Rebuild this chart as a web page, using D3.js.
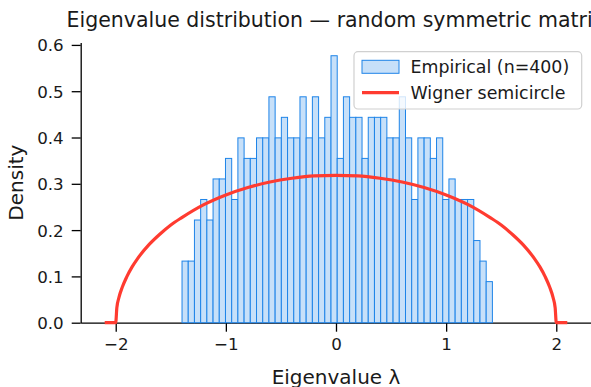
<!DOCTYPE html>
<html>
<head>
<meta charset="utf-8">
<script src="https://cdn.jsdelivr.net/npm/d3@7"></script>
<style>
  body { margin: 0; background: #fff; }
  svg { display: block; font-family: "DejaVu Sans", sans-serif; }
</style>
</head>
<body>
<div id="chart"></div>
<script>
// histogram: 50 equal bins between binLo and binHi, counts out of n eigenvalues
const nEig = 400;
const binLo = -1.398, binHi = 1.420;
const counts = [3, 3, 5, 6, 5, 7, 7, 8, 6, 9, 8, 8, 9, 9, 11, 9, 10, 9, 9, 11, 9, 11, 9, 10, 13,
                8, 11, 10, 10, 8, 10, 10, 10, 9, 9, 11, 9, 6, 9, 9, 8, 9, 6, 7, 6, 6, 6, 4, 3, 2];

// Wigner semicircle
const semiX = [-2.1, -2.0, -1.99, -1.97, -1.94, -1.9, -1.85, -1.8, -1.7, -1.6, -1.5, -1.4, -1.2, -1.0, -0.8, -0.6, -0.4, -0.2, 0,
               0.2, 0.4, 0.6, 0.8, 1.0, 1.2, 1.4, 1.5, 1.6, 1.7, 1.8, 1.85, 1.9, 1.94, 1.97, 1.99, 2.0, 2.1];
const semiY = [0, 0, 0.032, 0.055, 0.077, 0.099, 0.121, 0.139, 0.168, 0.191, 0.211, 0.227, 0.255, 0.276, 0.292, 0.304, 0.312, 0.317, 0.318,
               0.317, 0.312, 0.304, 0.292, 0.276, 0.255, 0.227, 0.211, 0.191, 0.168, 0.139, 0.121, 0.099, 0.077, 0.055, 0.032, 0, 0];

const xTicks = [-2, -1, 0, 1, 2];
const yTicks = [0, 0.1, 0.2, 0.3, 0.4, 0.5, 0.6];
const legendLabels = ["Empirical (n=400)", "Wigner semicircle"];

const width = 591, height = 387;
const margin = {top: 42.6, right: 0, bottom: 64.3, left: 80.7};
const barFill = "#c7e0f9", barEdge = "#1e84e8", lineColor = "#ff3b30";

const svg = d3.select("#chart")
    .append("svg")
    .attr("width", width)
    .attr("height", height);

const xScale = d3.scaleLinear()
    .domain([-2.318, 2.318])
    .range([margin.left, 591.3]);

const yScale = d3.scaleLinear()
    .domain([0, 0.605])
    .range([height - margin.bottom, margin.top]);

const binW = (binHi - binLo) / counts.length;
const bins = counts.map((c, i) => ({
    x0: binLo + i * binW,
    x1: binLo + (i + 1) * binW,
    density: c / (nEig * binW)
}));

// axes
const xAxis = d3.axisBottom(xScale).tickValues(xTicks).tickSize(9).tickSizeOuter(0).tickPadding(6)
    .tickFormat(d => d < 0 ? "\u2212" + Math.abs(d) : d);
const yAxis = d3.axisLeft(yScale).tickValues(yTicks).tickSize(9).tickSizeOuter(0).tickPadding(8)
    .tickFormat(d3.format(".1f"));

const gx = svg.append("g")
    .attr("transform", `translate(0,${yScale(0)})`)
    .call(xAxis);
const gy = svg.append("g")
    .attr("transform", `translate(${margin.left},0)`)
    .call(yAxis);

[gx, gy].forEach(g => {
    g.selectAll("path.domain").attr("stroke", "#000").attr("stroke-width", 1.3);
    g.selectAll(".tick line").attr("stroke", "#000").attr("stroke-width", 1.3);
    g.selectAll(".tick text").attr("fill", "#1a1a1a").style("font-size", "16.7px")
        .style("font-family", "DejaVu Sans");
});
gy.selectAll(".tick text").attr("dy", "0.36em");
gx.selectAll(".tick text").attr("dy", "0.72em");

// bars
svg.append("g")
    .selectAll("rect")
    .data(bins)
    .enter()
    .append("rect")
    .attr("x", d => xScale(d.x0))
    .attr("y", d => yScale(d.density))
    .attr("width", d => xScale(d.x1) - xScale(d.x0))
    .attr("height", d => yScale(0) - yScale(d.density))
    .attr("fill", barFill)
    .attr("stroke", barEdge)
    .attr("stroke-width", 1);

// semicircle
const line = d3.line()
    .x((d, i) => xScale(semiX[i]))
    .y(d => yScale(d))
    .curve(d3.curveMonotoneX);

svg.append("path")
    .datum(semiY)
    .attr("d", line)
    .attr("fill", "none")
    .attr("stroke", lineColor)
    .attr("stroke-width", 3.2);

// labels
svg.append("text")
    .attr("x", 66.5)
    .attr("y", 27)
    .attr("fill", "#1a1a1a")
    .style("font-size", "20.5px")
    .text("Eigenvalue distribution \u2014 random symmetric matrix");

svg.append("text")
    .attr("x", (xScale.range()[0] + xScale.range()[1]) / 2)
    .attr("y", 384)
    .attr("text-anchor", "middle")
    .attr("fill", "#1a1a1a")
    .style("font-size", "20px")
    .text("Eigenvalue \u03bb");

svg.append("text")
    .attr("transform", `translate(23,${(yScale.range()[0] + yScale.range()[1]) / 2}) rotate(-90)`)
    .attr("text-anchor", "middle")
    .attr("fill", "#1a1a1a")
    .style("font-size", "20px")
    .text("Density");

// legend
const legend = svg.append("g");
legend.append("rect")
    .attr("x", 354).attr("y", 51.7)
    .attr("width", 227.7).attr("height", 57.3)
    .attr("rx", 4)
    .attr("fill", "#fff").attr("fill-opacity", 0.8)
    .attr("stroke", "#d0d0d0").attr("stroke-width", 1.2);

legend.append("rect")
    .attr("x", 362).attr("y", 60.3)
    .attr("width", 37).attr("height", 13)
    .attr("fill", barFill).attr("stroke", barEdge).attr("stroke-width", 1);

legend.append("line")
    .attr("x1", 362).attr("x2", 399)
    .attr("y1", 92.7).attr("y2", 92.7)
    .attr("stroke", lineColor).attr("stroke-width", 3.2);

legend.selectAll("text.lab")
    .data(legendLabels)
    .enter()
    .append("text")
    .attr("class", "lab")
    .attr("x", 410.5)
    .attr("y", (d, i) => 73.3 + i * 26)
    .attr("fill", "#1a1a1a")
    .style("font-size", "17.4px")
    .text(d => d);
</script>
</body>
</html>
